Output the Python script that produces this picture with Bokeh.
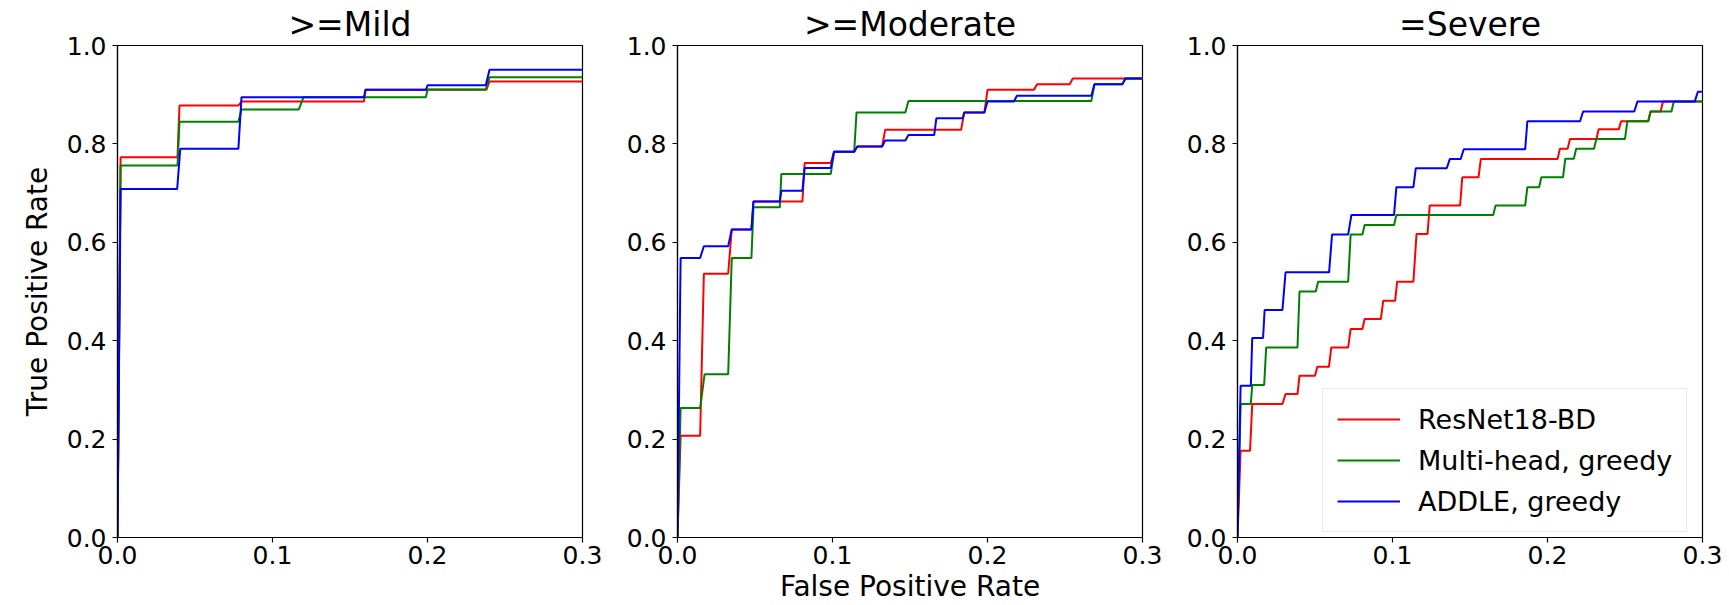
from bokeh.plotting import figure
from bokeh.models import Range1d, FixedTicker, PrintfTickFormatter
from bokeh.layouts import row
from bokeh.embed import file_html
from bokeh.resources import INLINE

FONT = "DejaVu Sans"

titles = [">=Mild", ">=Moderate", "=Severe"]
series_names = ["ResNet18-BD", "Multi-head, greedy", "ADDLE, greedy"]
colors = ["#ff0000", "#008000", "#0000ff"]
x_ticks = [0.0, 0.1, 0.2, 0.3]
y_ticks = [0.0, 0.2, 0.4, 0.6, 0.8, 1.0]

# ---- Panel 1: >=Mild ----
mild_red_fpr = [0, 0.002, 0.0387, 0.040, 0.078, 0.080, 0.159, 0.160, 0.238, 0.240, 0.35]
mild_red_tpr = [0, 0.773, 0.773, 0.878, 0.878, 0.886, 0.886, 0.910, 0.910, 0.927, 0.927]
mild_green_fpr = [0, 0.002, 0.0387, 0.040, 0.078, 0.080, 0.117, 0.120, 0.199, 0.200, 0.2376, 0.240, 0.35]
mild_green_tpr = [0, 0.756, 0.756, 0.845, 0.845, 0.870, 0.870, 0.895, 0.895, 0.9105, 0.9105, 0.9355, 0.9355]
mild_blue_fpr = [0, 0.002, 0.0385, 0.0405, 0.078, 0.080, 0.159, 0.160, 0.199, 0.200, 0.2376, 0.240, 0.35]
mild_blue_tpr = [0, 0.7085, 0.7085, 0.790, 0.790, 0.895, 0.895, 0.910, 0.910, 0.919, 0.919, 0.9505, 0.9505]

# ---- Panel 2: >=Moderate ----
mod_red_fpr = [0, 0.002, 0.0146, 0.017, 0.0327, 0.035, 0.0477, 0.049, 0.0806, 0.082, 0.0989, 0.101,
               0.114, 0.116, 0.132, 0.134, 0.183, 0.185, 0.198, 0.200, 0.230, 0.232, 0.253, 0.255, 0.35]
mod_red_tpr = [0, 0.207, 0.207, 0.536, 0.536, 0.626, 0.626, 0.683, 0.683, 0.761, 0.761, 0.784,
               0.784, 0.7946, 0.7946, 0.829, 0.829, 0.864, 0.864, 0.910, 0.910, 0.921, 0.921, 0.933, 0.933]
mod_green_fpr = [0, 0.002, 0.0146, 0.0175, 0.0327, 0.035, 0.0477, 0.049, 0.066, 0.067, 0.0989, 0.101,
                 0.114, 0.1155, 0.147, 0.149, 0.267, 0.269, 0.287, 0.289, 0.35]
mod_green_tpr = [0, 0.263, 0.263, 0.332, 0.332, 0.568, 0.568, 0.671, 0.671, 0.739, 0.739, 0.784,
                 0.784, 0.864, 0.864, 0.887, 0.887, 0.921, 0.921, 0.933, 0.933]
mod_blue_fpr = [0, 0.002, 0.0146, 0.017, 0.0327, 0.035, 0.0477, 0.049, 0.066, 0.067, 0.0806, 0.082,
                0.0989, 0.101, 0.114, 0.116, 0.132, 0.134, 0.147, 0.149, 0.1656, 0.167, 0.184, 0.185,
                0.198, 0.200, 0.217, 0.219, 0.267, 0.269, 0.287, 0.289, 0.35]
mod_blue_tpr = [0, 0.568, 0.568, 0.592, 0.592, 0.626, 0.626, 0.683, 0.683, 0.705, 0.705, 0.751,
                0.751, 0.784, 0.784, 0.7946, 0.7946, 0.807, 0.807, 0.818, 0.818, 0.852, 0.852, 0.864,
                0.864, 0.886, 0.886, 0.898, 0.898, 0.921, 0.921, 0.933, 0.933]

# ---- Panel 3: =Severe ----
sev_red_fpr = [0, 0.002, 0.0081, 0.0095, 0.029, 0.031, 0.0387, 0.040, 0.050, 0.0515, 0.059, 0.0605,
               0.0714, 0.073, 0.0806, 0.082, 0.0925, 0.094, 0.1017, 0.103, 0.1135, 0.1155, 0.1226, 0.124,
               0.1436, 0.145, 0.1555, 0.157, 0.2065, 0.208, 0.213, 0.2145, 0.2316, 0.233, 0.246, 0.2475,
               0.265, 0.2665, 0.273, 0.2745, 0.35]
sev_red_tpr = [0, 0.1763, 0.1763, 0.2713, 0.2713, 0.2916, 0.2916, 0.3289, 0.3289, 0.347, 0.347, 0.3864,
               0.3864, 0.4238, 0.4238, 0.444, 0.444, 0.481, 0.481, 0.520, 0.520, 0.617, 0.617, 0.6746,
               0.6746, 0.732, 0.732, 0.7695, 0.7695, 0.79, 0.79, 0.81, 0.81, 0.83, 0.83, 0.846,
               0.846, 0.866, 0.866, 0.886, 0.886]
sev_green_fpr = [0, 0.002, 0.0086, 0.0095, 0.0172, 0.0185, 0.0387, 0.040, 0.0505, 0.052, 0.0714, 0.073,
                 0.0806, 0.082, 0.101, 0.1025, 0.165, 0.1665, 0.1856, 0.187, 0.1946, 0.196, 0.210, 0.2115,
                 0.217, 0.2185, 0.230, 0.2315, 0.250, 0.2515, 0.265, 0.2665, 0.280, 0.2815, 0.35]
sev_green_tpr = [0, 0.2713, 0.2713, 0.310, 0.310, 0.3864, 0.3864, 0.500, 0.500, 0.520, 0.520, 0.6156,
                 0.6156, 0.6353, 0.6353, 0.6556, 0.6556, 0.6746, 0.6746, 0.712, 0.712, 0.732, 0.732, 0.770,
                 0.770, 0.790, 0.790, 0.810, 0.810, 0.846, 0.846, 0.866, 0.866, 0.886, 0.886]
sev_blue_fpr = [0, 0.002, 0.0086, 0.0095, 0.0165, 0.0175, 0.029, 0.031, 0.0591, 0.061, 0.0714, 0.0735,
                0.101, 0.1025, 0.1135, 0.115, 0.135, 0.137, 0.144, 0.146, 0.1856, 0.187, 0.221, 0.223,
                0.256, 0.258, 0.295, 0.297, 0.35]
sev_blue_tpr = [0, 0.3085, 0.3085, 0.4055, 0.4055, 0.4625, 0.4625, 0.539, 0.539, 0.6156, 0.6156, 0.6556,
                0.6556, 0.712, 0.712, 0.7505, 0.7505, 0.7695, 0.7695, 0.789, 0.789, 0.846, 0.846, 0.866,
                0.866, 0.886, 0.886, 0.906, 0.906]

panels = [
    [(mild_red_fpr, mild_red_tpr), (mild_green_fpr, mild_green_tpr), (mild_blue_fpr, mild_blue_tpr)],
    [(mod_red_fpr, mod_red_tpr), (mod_green_fpr, mod_green_tpr), (mod_blue_fpr, mod_blue_tpr)],
    [(sev_red_fpr, sev_red_tpr), (sev_green_fpr, sev_green_tpr), (sev_blue_fpr, sev_blue_tpr)],
]

left_borders = [117, 70, 70]
right_borders = [25, 25, 22]

figs = []
for i in range(3):
    p = figure(frame_width=465, frame_height=492,
               x_range=Range1d(0, 0.3), y_range=Range1d(0, 1.0),
               output_backend="svg", toolbar_location=None,
               min_border_left=left_borders[i], min_border_right=right_borders[i],
               min_border_top=45, min_border_bottom=66,
               background_fill_color="white", border_fill_color="white")
    p.title.text = titles[i]
    p.title.align = "center"
    p.title.text_font = FONT
    p.title.text_font_size = "33px"
    p.title.text_font_style = "normal"
    p.title.text_color = "black"
    p.title.standoff = 4
    p.outline_line_color = "black"
    p.outline_line_width = 1.2
    p.outline_line_alpha = 1.0
    p.xgrid.visible = False
    p.ygrid.visible = False
    for ax in (p.xaxis[0], p.yaxis[0]):
        ax.axis_line_color = "black"
        ax.axis_line_width = 1.2
        ax.major_tick_out = 5
        ax.major_tick_in = 0
        ax.major_tick_line_width = 1.2
        ax.minor_tick_line_color = None
        ax.major_label_text_font = FONT
        ax.major_label_text_font_size = "25px"
        ax.major_label_text_color = "black"
        ax.formatter = PrintfTickFormatter(format="%.1f")
    p.xaxis[0].ticker = FixedTicker(ticks=x_ticks)
    p.yaxis[0].ticker = FixedTicker(ticks=y_ticks)
    p.xaxis[0].major_label_standoff = 3
    p.yaxis[0].major_label_standoff = 6

    for j, (fx, ty) in enumerate(panels[i]):
        if i == 2:
            p.line(fx, ty, line_color=colors[j], line_width=2, legend_label=series_names[j])
        else:
            p.line(fx, ty, line_color=colors[j], line_width=2)

    if i == 0:
        p.yaxis[0].axis_label = "True Positive Rate"
        p.yaxis[0].axis_label_text_font = FONT
        p.yaxis[0].axis_label_text_font_size = "28px"
        p.yaxis[0].axis_label_text_font_style = "normal"
        p.yaxis[0].axis_label_text_color = "black"
        p.yaxis[0].axis_label_standoff = 10
    if i == 1:
        p.xaxis[0].axis_label = "False Positive Rate"
        p.xaxis[0].axis_label_text_font = FONT
        p.xaxis[0].axis_label_text_font_size = "28px"
        p.xaxis[0].axis_label_text_font_style = "normal"
        p.xaxis[0].axis_label_text_color = "black"
        p.xaxis[0].axis_label_standoff = 3
    if i == 2:
        lg = p.legend[0]
        lg.location = (85, 5)
        lg.padding = 14
        lg.spacing = 9
        lg.glyph_width = 63
        lg.glyph_height = 24
        lg.label_standoff = 18
        lg.label_text_font = FONT
        lg.label_text_font_size = "27px"
        lg.label_text_color = "black"
        lg.label_height = 32
        lg.border_line_color = "#d0d0d0"
        lg.border_line_width = 1
        lg.background_fill_alpha = 0.85
    figs.append(p)

layout = row(*figs)
open("out.html", "w").write(file_html(layout, INLINE))
